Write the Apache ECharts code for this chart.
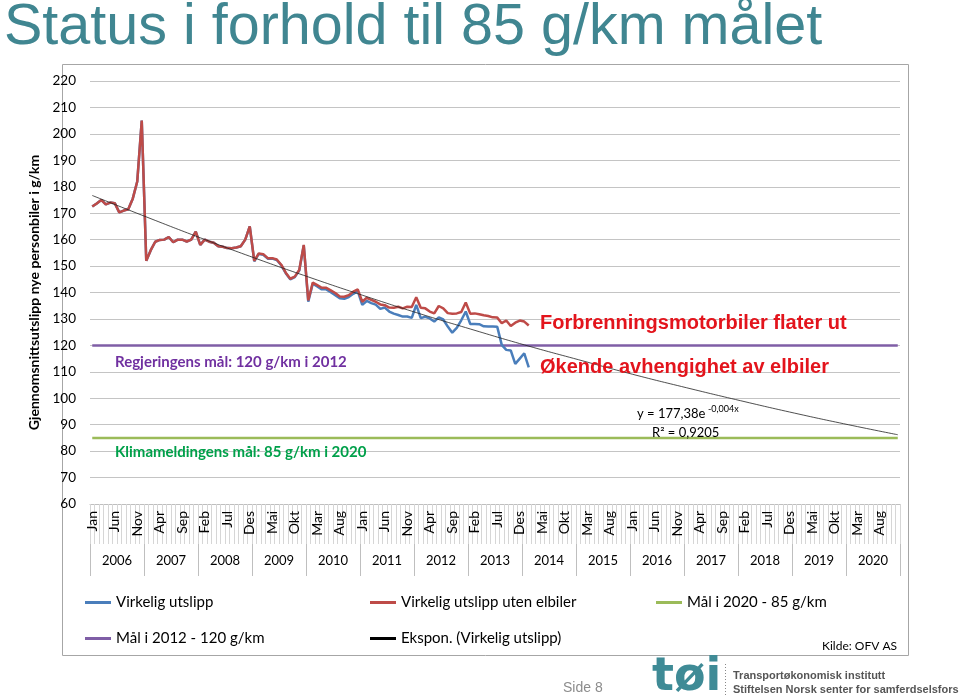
<!DOCTYPE html>
<html><head><meta charset="utf-8">
<script src="https://cdn.jsdelivr.net/npm/echarts@6/dist/echarts.min.js"></script>
<style>html,body{margin:0;padding:0;background:#fff;}#c{width:959px;height:699px;}</style>
</head><body><div id="c"></div>
<script>
// ---- data ----
const years = ['2006','2007','2008','2009','2010','2011','2012','2013','2014','2015','2016','2017','2018','2019','2020'];
const monthNames = ['Jan','Feb','Mar','Apr','Mai','Jun','Jul','Aug','Sep','Okt','Nov','Des'];

// Virkelig utslipp uten elbiler (Jan 2006 - Feb 2014)
const redValues = [
  172.5,173.7,175.0,173.3,174.0,173.8,170.3,171.0,171.5,175.5,182.0,205.0,
  152.0,156.0,159.2,159.9,160.0,161.0,159.0,160.0,160.0,159.3,160.0,163.0,
  158.0,160.0,159.2,158.8,157.5,157.3,156.8,156.7,157.0,157.5,160.0,165.0,
  152.0,154.8,154.5,153.0,153.0,152.5,150.5,147.5,145.2,146.0,148.5,158.0,
  137.0,143.8,142.8,141.8,141.8,140.8,139.8,138.5,138.4,139.0,140.3,141.2,
  136.5,138.0,137.2,136.5,135.5,135.2,134.3,134.2,134.6,134.0,134.6,134.5,
  138.2,134.2,134.0,132.8,132.1,134.9,134.0,132.2,132.0,132.1,132.6,136.2,
  132.0,132.1,131.8,131.4,131.1,130.6,130.5,128.4,129.4,127.3,128.6,129.4,
  129.0,127.5
];
// Virkelig utslipp (Jan 2006 - Feb 2014)
const blueValues = [
  172.5,173.7,175.0,173.3,174.0,173.8,170.3,171.0,171.5,175.5,182.0,205.0,
  152.0,156.0,159.2,159.9,160.0,161.0,159.0,160.0,160.0,159.3,160.0,163.0,
  158.0,160.0,159.2,158.8,157.5,157.3,156.8,156.7,157.0,157.5,160.0,165.0,
  151.8,154.6,154.3,152.8,152.8,152.3,150.3,147.3,145.0,145.8,148.3,157.8,
  136.5,143.3,142.3,141.2,141.2,140.1,139.0,137.8,137.6,138.3,139.5,140.5,
  135.3,136.8,136.0,135.4,133.8,134.3,132.8,132.0,131.5,130.9,130.9,130.4,
  135.3,130.3,130.8,130.2,129.0,130.6,129.8,127.1,124.8,126.6,129.5,132.8,
  128.1,128.1,128.0,127.2,127.1,127.1,127.0,120.2,118.3,118.1,113.0,115.0,
  117.0,111.7
];
// Ekspon. trendline (read at each January, and Dec 2020)
const trendMonths = [0,12,24,36,48,60,72,84,96,108,120,132,144,156,168,179];
const trendValues = [176.7,168.6,160.7,153.1,145.9,139.0,132.4,126.2,120.2,114.6,109.1,104.0,99.1,94.4,90.0,86.2];
// Goals
const goal2012Months = [0,179];
const goal2012Values = [120,120];
const goal2020Months = [0,179];
const goal2020Values = [85,85];

// ---- build ----
const categories = [];
years.forEach(y => monthNames.forEach(m => categories.push(m)));
const pairs = (xs, ys) => xs.map((x, i) => [x, ys[i]]);

const FONT = 'Lato, "Open Sans", sans-serif';
const chart = echarts.init(document.getElementById('c'), null, {renderer: 'canvas'});

function legendAt(name, left, top) {
  return {
    data: [name], left: left, top: top, icon: 'rect', itemWidth: 26, itemHeight: 3,
    textStyle: {fontFamily: FONT, fontSize: 15, color: '#000'}, selectedMode: false
  };
}
function txt(text, x, y, size, color, weight, family) {
  return {type: 'text', x: x, y: y, z: 100, style: {
    text: text, fill: color, fontSize: size, fontWeight: weight || 'normal',
    fontFamily: family || FONT, verticalAlign: 'middle', align: 'left'}};
}

const option = {
  animation: false,
  backgroundColor: '#fff',
  grid: {left: 90, right: 59, top: 81, height: 423},
  xAxis: [{
    type: 'category', data: categories, boundaryGap: true,
    axisLine: {show: true, lineStyle: {color: '#bfbfbf', width: 1}},
    axisTick: {show: true, interval: 0, length: 40, lineStyle: {color: '#d6d6d6', width: 1}},
    axisLabel: {interval: 4, rotate: 90, margin: 7, fontSize: 14, fontFamily: FONT, color: '#000', hideOverlap: false},
    splitLine: {show: false}
  }, {
    type: 'category', data: years, position: 'bottom', offset: 40, boundaryGap: true,
    axisLine: {show: false},
    axisTick: {show: true, interval: 0, length: 32, lineStyle: {color: '#bfbfbf', width: 1}},
    axisLabel: {interval: 0, margin: 10, fontSize: 13, fontFamily: FONT, color: '#000'}
  }],
  yAxis: {
    type: 'value', min: 60, max: 220, interval: 10,
    axisLine: {show: false}, axisTick: {show: false},
    axisLabel: {margin: 14, fontSize: 13.5, fontFamily: FONT, color: '#000'},
    splitLine: {lineStyle: {color: '#c4c4c4', width: 1}},
    name: 'Gjennomsnittsutslipp nye personbiler i g/km', nameLocation: 'middle', nameGap: 49,
    nameTextStyle: {fontFamily: FONT, fontSize: 14, fontWeight: 'bold', color: '#000'}
  },
  legend: [
    legendAt('Virkelig utslipp', 80, 590),
    legendAt('Virkelig utslipp uten elbiler', 365, 590),
    legendAt('Mål i 2020 - 85 g/km', 651, 590),
    legendAt('Mål i 2012 - 120 g/km', 80, 626),
    legendAt('Ekspon. (Virkelig utslipp)', 365, 626)
  ],
  series: [
    {name: 'Mål i 2020 - 85 g/km', type: 'line', data: pairs(goal2020Months, goal2020Values), symbol: 'none',
     itemStyle: {color: '#9bbb59'}, lineStyle: {color: '#9bbb59', width: 2.5}},
    {name: 'Mål i 2012 - 120 g/km', type: 'line', data: pairs(goal2012Months, goal2012Values), symbol: 'none',
     itemStyle: {color: '#7f5ea6'}, lineStyle: {color: '#7f5ea6', width: 2.5}},
    {name: 'Virkelig utslipp', type: 'line', data: blueValues, symbol: 'none',
     itemStyle: {color: '#4a7ebb'}, lineStyle: {color: '#4a7ebb', width: 2.5}},
    {name: 'Virkelig utslipp uten elbiler', type: 'line', data: redValues, symbol: 'none',
     itemStyle: {color: '#be4b48'}, lineStyle: {color: '#be4b48', width: 2.5}},
    {name: 'Ekspon. (Virkelig utslipp)', type: 'line', data: pairs(trendMonths, trendValues), symbol: 'none',
     smooth: true, itemStyle: {color: '#000'}, lineStyle: {color: '#222', width: 0.8}}
  ],
  graphic: [
    {type: 'rect', shape: {x: 62.5, y: 64.5, width: 846, height: 591}, z: 0,
     style: {fill: 'none', stroke: '#a6a6a6', lineWidth: 1}},
    txt('Status i forhold til 85 g/km målet', 4, 28, 57.5, '#408691', 'normal', '"Liberation Sans", Arial, sans-serif'),
    txt('Regjeringens mål: 120 g/km i 2012', 115, 362, 15, '#7030a0', 'bold'),
    txt('Klimameldingens mål: 85 g/km i 2020', 115, 452, 15, '#00a04a', 'bold'),
    txt('Forbrenningsmotorbiler flater ut', 540, 323, 20, '#e3141c', 'bold', '"Liberation Sans", Arial, sans-serif'),
    txt('Økende avhengighet av elbiler', 540, 367, 20, '#e3141c', 'bold', '"Liberation Sans", Arial, sans-serif'),
    txt('y = 177,38e', 637, 414, 13, '#000'),
    txt('-0,004x', 708, 409, 9, '#000'),
    txt('R² = 0,9205', 652, 433, 13, '#000'),
    txt('Kilde: OFV AS', 822, 646, 12, '#000'),
    txt('Side 8', 563, 688, 14, '#8c8c8c', 'normal', '"Liberation Sans", Arial, sans-serif'),
    txt('tøi', 652, 678, 46, '#3f8b96', 'bold', '"DejaVu Sans", sans-serif'),
    {type: 'line', shape: {x1: 725.5, y1: 664, x2: 725.5, y2: 697}, style: {stroke: '#888', lineWidth: 1, lineDash: [1, 2]}},
    txt('Transportøkonomisk institutt', 733, 676, 11, '#555', 'bold', '"Liberation Sans Narrow", "Liberation Sans", Arial, sans-serif'),
    txt('Stiftelsen Norsk senter for samferdselsforskning', 733, 690, 11, '#555', 'bold', '"Liberation Sans Narrow", "Liberation Sans", Arial, sans-serif')
  ]
};
chart.setOption(option);
</script>
</body></html>
